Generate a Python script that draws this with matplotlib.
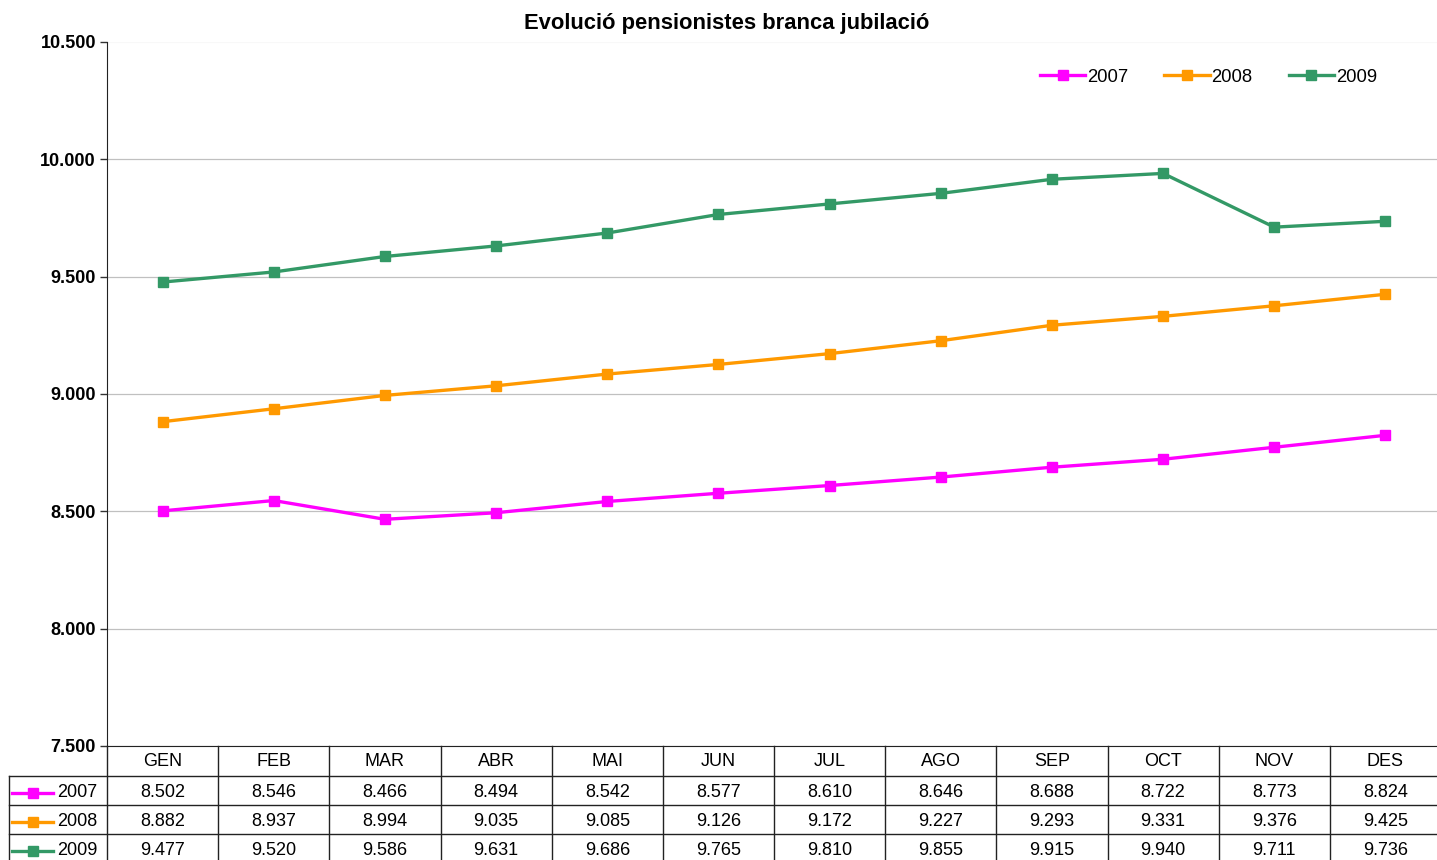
import matplotlib
matplotlib.use('Agg')
import matplotlib.pyplot as plt
from matplotlib.ticker import FuncFormatter

plt.rcParams['font.family'] = ['Liberation Sans', 'DejaVu Sans']

# Monthly pensioner counts, retirement branch
months = ['GEN', 'FEB', 'MAR', 'ABR', 'MAI', 'JUN', 'JUL', 'AGO', 'SEP', 'OCT', 'NOV', 'DES']
years = ['2007', '2008', '2009']
vals_2007 = [8502, 8546, 8466, 8494, 8542, 8577, 8610, 8646, 8688, 8722, 8773, 8824]
vals_2008 = [8882, 8937, 8994, 9035, 9085, 9126, 9172, 9227, 9293, 9331, 9376, 9425]
vals_2009 = [9477, 9520, 9586, 9631, 9686, 9765, 9810, 9855, 9915, 9940, 9711, 9736]
series = [vals_2007, vals_2008, vals_2009]
colors = ['#FF00FF', '#FF9900', '#339966']


def thousands(v, pos=None):
    return f'{v:,.0f}'.replace(',', '.')


W, H = 1437, 860
fig = plt.figure(figsize=(W / 100, H / 100), dpi=100)
# axes box in pixels: x 107..1441 (runs slightly past the edge), y 42..746
ax_l, ax_r, ax_t, ax_b = 107, 1441, 42, 746
ax = fig.add_axes([ax_l / W, 1 - ax_b / H, (ax_r - ax_l) / W, (ax_b - ax_t) / H])
axw, axh = ax_r - ax_l, ax_b - ax_t

x = list(range(len(months)))
for year, vals, c in zip(years, series, colors):
    ax.plot(x, vals, color=c, lw=2.4, marker='s', ms=7, mec=c, mfc=c, label=year)

ax.set_xlim(-0.5, len(months) - 0.5)
ax.set_ylim(7500, 10500)
ax.set_yticks(range(7500, 10501, 500))
ax.yaxis.set_major_formatter(FuncFormatter(thousands))
ax.set_xticks([])
ax.tick_params(axis='y', length=5, width=1, color='#333333', labelsize=13, pad=3)
for lab in ax.get_yticklabels():
    lab.set_fontweight('bold')
ax.yaxis.grid(True, color='#c0c0c0', lw=0.9)
ax.get_ygridlines()[-1].set_alpha(0.1)
ax.set_axisbelow(True)
for s in ['top', 'right']:
    ax.spines[s].set_visible(False)
ax.spines['left'].set_color('#222222')
ax.spines['bottom'].set_color('#222222')

ax.legend(loc='center right', bbox_to_anchor=(0.9575, 0.950), ncol=3, frameon=False,
          fontsize=13.3, handlelength=2.45, handletextpad=0.1, columnspacing=1.95,
          borderaxespad=0.0)

fig.text(727 / W, 1 - 23 / H, 'Evolució pensionistes branca jubilació',
         ha='center', va='center', fontsize=15.8, fontweight='bold')

# data table under the plot, in axes coordinates
hdr_h = 30 / axh
row_h = 29 / axh
lab_x0 = -98 / axw
bottom = -(hdr_h + 3 * row_h) - 0.05
tr = ax.transAxes
line_kw = dict(transform=tr, clip_on=False, color='#222222', lw=1)

ax.plot([0, 0], [0, bottom], **line_kw)
ax.plot([lab_x0, lab_x0], [-hdr_h, bottom], **line_kw)
for i in range(1, len(months)):
    ax.plot([i / 12, i / 12], [0, bottom], **line_kw)
for k in range(3):
    yk = -hdr_h - k * row_h
    ax.plot([lab_x0, 1], [yk, yk], **line_kw)

for i, m in enumerate(months):
    ax.text((i + 0.5) / 12, -hdr_h / 2 - 1 / axh, m, transform=tr, ha='center',
            va='center', fontsize=13, clip_on=False)

for k, (year, vals, c) in enumerate(zip(years, series, colors)):
    yc = -hdr_h - (k + 0.5) * row_h - 2 / axh
    xs = [-95 / axw, -74 / axw, -54 / axw]
    ax.plot(xs, [yc] * 3, transform=tr, clip_on=False, color=c, lw=2.4,
            marker='s', ms=7, markevery=[1])
    ax.text(-50 / axw, yc, year, transform=tr, ha='left', va='center',
            fontsize=13, clip_on=False)
    for i, v in enumerate(vals):
        ax.text((i + 0.5) / 12, yc, thousands(v), transform=tr, ha='center',
                va='center', fontsize=13, clip_on=False)

fig.savefig('out.png', dpi=100)
